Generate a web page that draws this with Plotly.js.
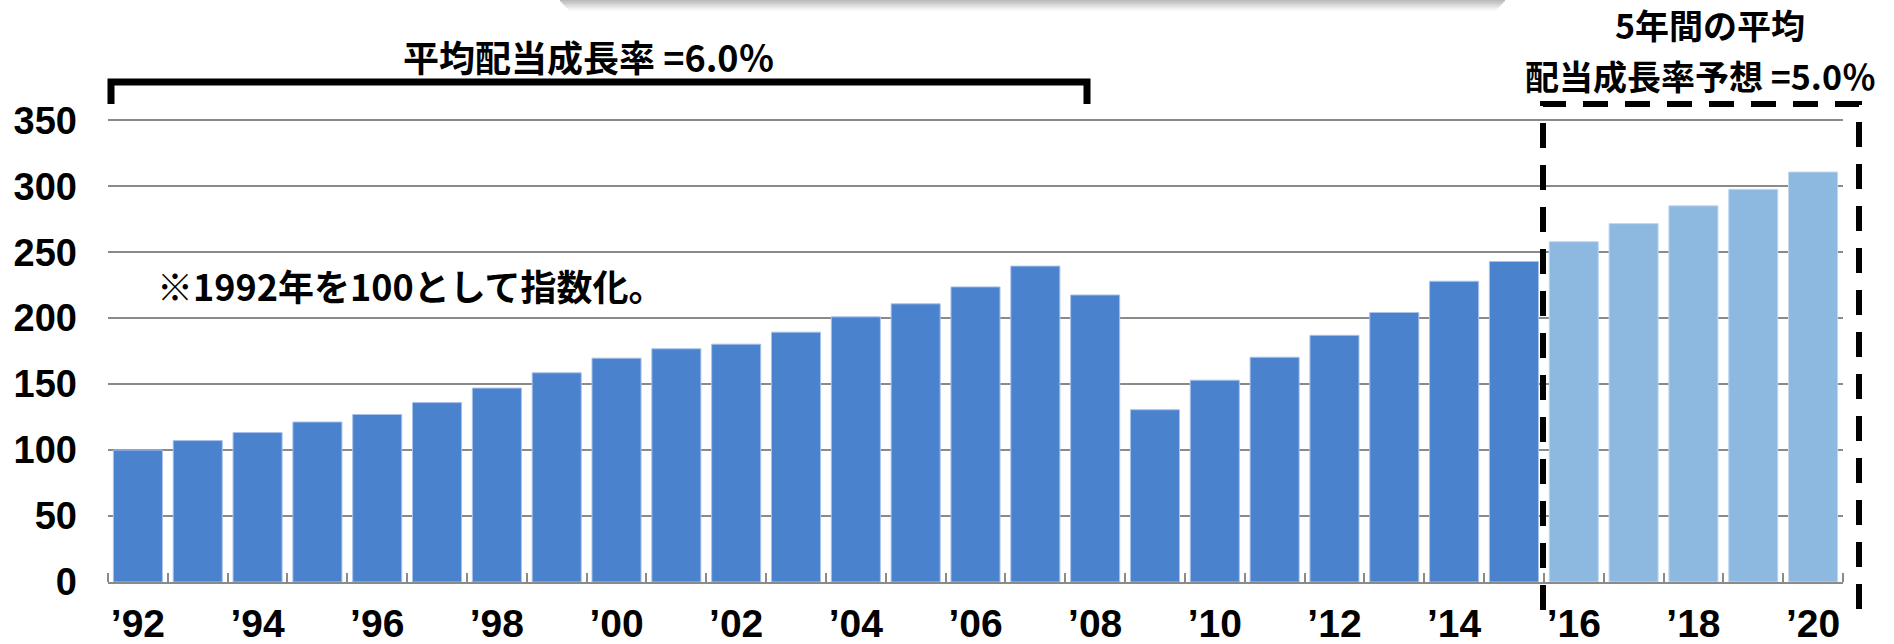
<!DOCTYPE html>
<html>
<head>
<meta charset="utf-8">
<script src="https://cdn.plot.ly/plotly-3.0.1.min.js"></script>
<style>
  html, body { margin: 0; padding: 0; background: #ffffff; }
  #chart { width: 1894px; height: 644px; }
</style>
</head>
<body>
<div id="chart"></div>
<script>
// ---- data ----
var years = [1992, 1993, 1994, 1995, 1996, 1997, 1998, 1999, 2000, 2001, 2002, 2003, 2004, 2005, 2006, 2007, 2008, 2009, 2010, 2011, 2012, 2013, 2014, 2015];
var actualValues = [100, 107.2, 113.3, 121.3, 127, 136, 147, 158.6, 169.7, 176.8, 180.3, 189.4, 201, 210.9, 223.7, 239.5, 217.6, 130.6, 153, 170.4, 187, 204.3, 228, 243];
var forecastYears = [2016, 2017, 2018, 2019, 2020];
var forecastValues = [258, 271.7, 285.2, 297.7, 310.8];
var xTickVals = [1992, 1994, 1996, 1998, 2000, 2002, 2004, 2006, 2008, 2010, 2012, 2014, 2016, 2018, 2020];
var xTickText = ["’92", "’94", "’96", "’98", "’00", "’02", "’04", "’06", "’08", "’10", "’12", "’14", "’16", "’18", "’20"];
var yTickVals = [0, 50, 100, 150, 200, 250, 300, 350];
var titleLeft = "平均配当成長率 =6.0％";
var titleRight1 = "5年間の平均";
var titleRight2 = "配当成長率予想 =5.0％";
var noteText = "※1992年を100として指数化。";

// ---- layout geometry (pixels) ----
var W = 1894, H = 644;
var L = 108, R = 1843, T = 119, B = 582;
function xp(px) { return (px - L) / (R - L); }
function yp(py) { return (B - py) / (B - T); }

var CJK = "'Noto Sans CJK JP', 'Noto Sans', sans-serif";

var traces = [
  {
    type: 'bar', x: years, y: actualValues,
    marker: { color: '#4A82CE', line: { color: '#a8c2ea', width: 1 } },
    hoverinfo: 'x+y'
  },
  {
    type: 'bar', x: forecastYears, y: forecastValues,
    marker: { color: '#8DB9E1', line: { color: '#c0d8ef', width: 1 } },
    hoverinfo: 'x+y'
  }
];

var shapes = [];
// soft shadow of a box at top edge
var shadowSteps = [0.45, 0.38, 0.30, 0.22, 0.15, 0.09, 0.04];
for (var i = 0; i < shadowSteps.length; i++) {
  shapes.push({
    type: 'rect', xref: 'paper', yref: 'paper',
    x0: xp(560 + i * 1.5), x1: xp(1505 - i * 1.5), y0: yp(i * 1.6), y1: yp(i * 1.6 + 1.6),
    fillcolor: 'rgba(100,100,100,' + shadowSteps[i] + ')', line: { width: 0 }, layer: 'above'
  });
}
// bracket over 1992-2008
shapes.push({
  type: 'path', xref: 'paper', yref: 'paper',
  path: 'M ' + xp(111) + ' ' + yp(104) + ' L ' + xp(111) + ' ' + yp(82) +
        ' L ' + xp(1087) + ' ' + yp(82) + ' L ' + xp(1087) + ' ' + yp(104),
  line: { color: '#000000', width: 7 }
});
// dashed box over forecast
shapes.push({
  type: 'path', xref: 'paper', yref: 'paper',
  path: 'M ' + xp(1543) + ' ' + yp(610) + ' L ' + xp(1543) + ' ' + yp(104) +
        ' L ' + xp(1859) + ' ' + yp(104) + ' L ' + xp(1859) + ' ' + yp(610),
  line: { color: '#000000', width: 6, dash: '25px,17px' },
  layer: 'above'
});

var annFont = { family: CJK, size: 36, color: '#000000', weight: 700 };
var rightFont = { family: CJK, size: 34, color: '#000000', weight: 700 };
var annotations = [
  { xref: 'paper', yref: 'paper', x: xp(589), y: yp(56), text: titleLeft, showarrow: false,
    xanchor: 'center', yanchor: 'middle', font: annFont },
  { xref: 'paper', yref: 'paper', x: xp(1710), y: yp(25), text: titleRight1, showarrow: false,
    borderpad: 0, xanchor: 'center', yanchor: 'middle', font: rightFont },
  { xref: 'paper', yref: 'paper', x: xp(1700), y: yp(75), text: titleRight2, showarrow: false,
    borderpad: 0, xanchor: 'center', yanchor: 'middle', font: rightFont },
  { xref: 'paper', yref: 'paper', x: xp(155), y: yp(285), text: noteText, showarrow: false,
    xanchor: 'left', yanchor: 'middle', font: annFont }
];

var layout = {
  width: W, height: H,
  margin: { l: L, r: W - R, t: T, b: H - B, pad: 0 },
  paper_bgcolor: '#ffffff', plot_bgcolor: '#ffffff',
  showlegend: false,
  barmode: 'overlay',
  bargap: 0.18,
  xaxis: {
    type: 'linear', range: [1991.5, 2020.5],
    tickvals: xTickVals, ticktext: xTickText,
    ticks: '', showgrid: false, zeroline: false,
    showline: true, linecolor: '#8a8a8a', linewidth: 2,
    tickfont: { family: "'Liberation Sans Narrow', 'Liberation Sans', Arial, sans-serif", size: 39, color: '#000000', weight: 700 },
    ticklabelstandoff: 6,
    minor: { ticks: 'inside', ticklen: 9, tickwidth: 2, tickcolor: '#8a8a8a', tick0: 1991.5, dtick: 1, showgrid: false },
    fixedrange: true
  },
  yaxis: {
    range: [0, 351], tickvals: yTickVals,
    ticks: '', showgrid: true, gridcolor: '#8a8a8a', gridwidth: 2,
    zeroline: false, showline: false,
    tickfont: { family: "'Liberation Sans', Arial, sans-serif", size: 38, color: '#000000', weight: 700 },
    ticklabelstandoff: 30,
    fixedrange: true
  },
  shapes: shapes,
  annotations: annotations
};

Plotly.newPlot('chart', traces, layout, { displayModeBar: false, staticPlot: true });
</script>
</body>
</html>
